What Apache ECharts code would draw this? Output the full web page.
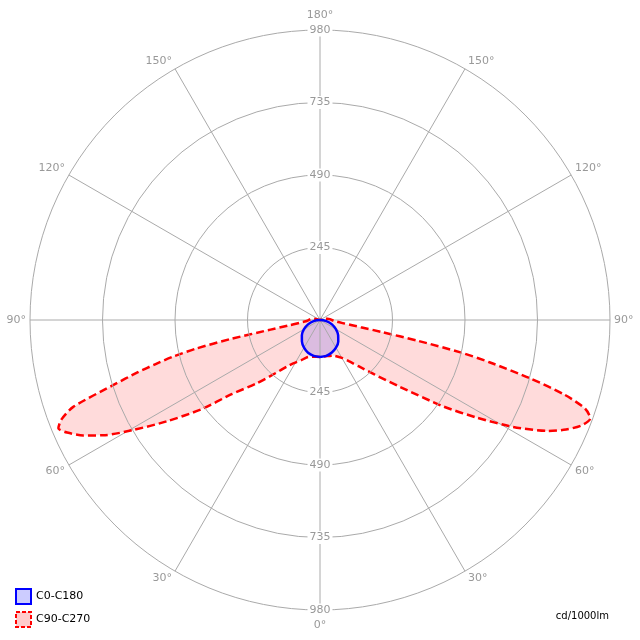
<!DOCTYPE html>
<html>
<head>
<meta charset="utf-8">
<script src="https://cdn.jsdelivr.net/npm/echarts@6/dist/echarts.min.js"></script>
<style>
html,body{margin:0;padding:0;background:#fff;}
#chart{width:640px;height:640px;}
</style>
</head>
<body>
<div id="chart"></div>
<script>
// ---- data (gamma in degrees measured from nadir, intensity in cd/1000lm) ----
const seriesNames = ['C0-C180', 'C90-C270'];
const radiusTicks = [0, 245, 490, 735, 980];
const angleTicks = [0, 30, 60, 90, 120, 150, 180];

// C0-C180 (blue)
const c0Angles   = [0, 10, 20, 30, 40, 50, 60, 70, 80, 90];
const c0Values   = [125, 123, 117, 108, 96, 80, 62, 43, 22, 0];
const c180Angles = [0, 10, 20, 30, 40, 50, 60, 70, 80, 90];
const c180Values = [125, 123, 118, 108, 95, 80, 63, 43, 22, 0];

// C90-C270 (red)
const c270Angles = [0, 10, 15, 20, 25, 31.7, 35, 40, 45, 50, 53, 56.5, 59.5, 62, 64, 66, 67.5, 69, 70.6, 72.5, 74, 75, 76, 77, 78, 79, 80, 82, 85, 90, 95, 100, 105, 110];
const c270Values = [125, 126, 128, 135, 150, 172, 190, 235, 303, 390, 500, 620, 732, 830, 890, 935, 957, 935, 884, 735, 640, 575, 511, 430, 310, 170, 110, 70, 48, 38, 32, 24, 10, 0];
const c90Angles  = [0, 10, 20, 30, 35, 40, 45, 50, 55, 58, 61, 64, 66, 68, 70, 71.5, 73, 74.5, 76, 77, 78, 79, 80, 82, 85, 90, 95, 100, 105, 110];
const c90Values  = [125, 124, 128, 148, 170, 205, 260, 350, 510, 620, 745, 855, 910, 952, 972, 945, 865, 736, 590, 490, 340, 210, 140, 80, 52, 40, 34, 26, 14, 0];

// left half: axis value = gamma ; right half: axis value = 360 - gamma
function buildLoop(leftA, leftV, rightA, rightV) {
  const pts = [];
  for (let i = 0; i < leftA.length; i++) pts.push([leftV[i], leftA[i]]);
  for (let i = rightA.length - 1; i >= 0; i--) pts.push([rightV[i], 360 - rightA[i]]);
  return pts;
}
const blueData = buildLoop(c180Angles, c180Values, c0Angles, c0Values);
const redData = buildLoop(c270Angles, c270Values, c90Angles, c90Values);

const FONT = 'DejaVu Sans';
const gridColor = '#aaaaaa';
const labelGrey = '#999999';
const SMOOTH = 0.25;

const chart = echarts.init(document.getElementById('chart'), null, {renderer: 'canvas'});

const radiusLabel = {
  show: true,
  showMinLabel: false,
  margin: 0,
  align: 'center',
  verticalAlign: 'middle',
  color: labelGrey,
  fontFamily: FONT,
  fontSize: 11,
  backgroundColor: '#ffffff',
  padding: [1, 2],
  formatter: function (v) { return v === 0 ? '' : String(v); }
};

const option = {
  animation: false,
  backgroundColor: '#ffffff',
  title: {
    text: 'cd/1000lm',
    right: 31,
    top: 611,
    padding: 0,
    textStyle: {fontFamily: FONT, fontSize: 10, fontWeight: 'normal', color: '#000000'}
  },
  legend: {
    orient: 'vertical',
    left: 15,
    top: 588,
    padding: 0,
    itemWidth: 15,
    itemHeight: 15,
    itemGap: 6,
    textStyle: {fontFamily: FONT, fontSize: 11, color: '#000000'},
    data: [
      {name: seriesNames[0], icon: 'rect', itemStyle: {color: 'rgba(0,0,255,0.2)', borderColor: '#0000ff', borderWidth: 2}},
      {name: seriesNames[1], icon: 'rect', itemStyle: {color: 'rgba(255,0,0,0.2)', borderColor: '#ff0000', borderWidth: 2, borderType: [4, 2]}}
    ]
  },
  polar: [
    {center: ['50%', '50%'], radius: 290},
    {center: ['50%', '50%'], radius: 290}
  ],
  angleAxis: [
    {
      polarIndex: 0,
      type: 'value',
      min: 0,
      max: 360,
      interval: 30,
      startAngle: -90,
      clockwise: true,
      z: 2,
      axisLine: {show: false},
      axisTick: {show: false},
      splitLine: {show: true, lineStyle: {color: gridColor, width: 1}},
      axisLabel: {
        show: true,
        margin: 2,
        color: labelGrey,
        fontFamily: FONT,
        fontSize: 11,
        formatter: function (v) {
          const t = (v > 180 ? 360 - v : v) + '°';
          if (v === 180) return '{top|' + t + '}';
          if (v === 0 || v === 360) return '{bot|' + t + '}';
          return '{n|' + t + '}';
        },
        rich: {
          n: {color: labelGrey, fontFamily: FONT, fontSize: 11, padding: [0, 2, 0, 2]},
          top: {color: labelGrey, fontFamily: FONT, fontSize: 11, padding: [0, 0, 7, 0]},
          bot: {color: labelGrey, fontFamily: FONT, fontSize: 11, padding: [8, 0, 0, 0]}
        }
      }
    },
    {
      polarIndex: 1,
      type: 'value',
      min: 0,
      max: 360,
      interval: 30,
      startAngle: 90,
      show: false
    }
  ],
  radiusAxis: [
    {
      polarIndex: 0,
      type: 'value',
      min: 0,
      max: 980,
      interval: 245,
      z: 4,
      axisLine: {show: false},
      axisTick: {show: false},
      splitLine: {show: true, lineStyle: {color: gridColor, width: 1}},
      axisLabel: radiusLabel
    },
    {
      polarIndex: 1,
      type: 'value',
      min: 0,
      max: 980,
      interval: 245,
      z: 4,
      axisLine: {show: false},
      axisTick: {show: false},
      splitLine: {show: false},
      axisLabel: radiusLabel
    }
  ],
  series: [
    {
      name: seriesNames[1],
      type: 'line',
      coordinateSystem: 'polar',
      polarIndex: 0,
      data: redData,
      symbol: 'none',
      smooth: SMOOTH,
      silent: true,
      z: 1,
      lineStyle: {width: 0, color: 'rgba(0,0,0,0)'},
      itemStyle: {color: '#ff0000'},
      areaStyle: {color: 'rgba(255,0,0,0.2)', origin: 'start'}
    },
    {
      name: seriesNames[0],
      type: 'line',
      coordinateSystem: 'polar',
      polarIndex: 0,
      data: blueData,
      symbol: 'none',
      smooth: SMOOTH,
      silent: true,
      z: 1,
      lineStyle: {width: 0, color: 'rgba(0,0,0,0)'},
      itemStyle: {color: '#0000ff'},
      areaStyle: {color: 'rgba(0,0,255,0.2)', origin: 'start'}
    },
    {
      name: seriesNames[1],
      type: 'line',
      coordinateSystem: 'polar',
      polarIndex: 0,
      data: redData,
      symbol: 'none',
      smooth: SMOOTH,
      silent: true,
      z: 3,
      itemStyle: {color: '#ff0000'},
      lineStyle: {color: '#ff0000', width: 2.5, type: [8, 4]}
    },
    {
      name: seriesNames[0],
      type: 'line',
      coordinateSystem: 'polar',
      polarIndex: 0,
      data: blueData,
      symbol: 'none',
      smooth: SMOOTH,
      silent: true,
      z: 3,
      itemStyle: {color: '#0000ff'},
      lineStyle: {color: '#0000ff', width: 2.5}
    }
  ]
};

chart.setOption(option);
</script>
</body>
</html>
